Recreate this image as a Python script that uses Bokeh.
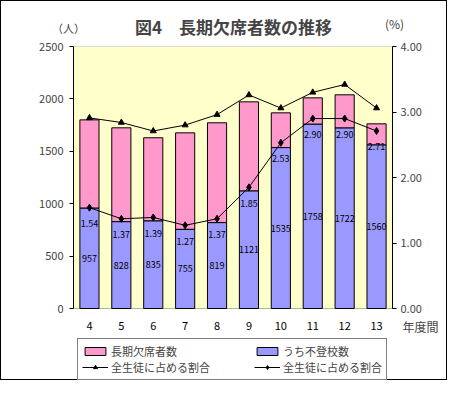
from bokeh.plotting import figure
from bokeh.models import (Range1d, LinearAxis, FactorRange, Label, Legend, LegendItem,
                          BoxAnnotation, ColumnDataSource, FixedTicker, NumeralTickFormatter)
from bokeh.core.properties import value
from bokeh.embed import file_html
from bokeh.resources import INLINE

years = ["4", "5", "6", "7", "8", "9", "10", "11", "12", "13"]
long_absence = [1800, 1724, 1629, 1676, 1772, 1972, 1867, 2010, 2039, 1762]
non_attend = [957, 828, 835, 755, 819, 1121, 1535, 1758, 1722, 1560]
long_pct = [2.91, 2.84, 2.71, 2.80, 2.96, 3.26, 3.06, 3.30, 3.42, 3.06]
non_pct = [1.54, 1.37, 1.39, 1.27, 1.37, 1.85, 2.53, 2.90, 2.90, 2.71]
left_ticks = [0, 500, 1000, 1500, 2000, 2500]
right_ticks = [0, 1, 2, 3, 4]
LMAX, RMAX = 2500, 4

FONT = "Noto Sans CJK JP"
PINK = "#FF99CC"
BLUE = "#9999FF"
W, H = 447, 380
FL, FT = 72, 45          # frame left / top on the canvas
FR = 391                 # frame right on the canvas
ZB = 307                 # canvas y of the value 0 (bottom of the plot area)
SP = "\u3000"

# the frame runs down to the canvas bottom so the legend can sit inside it
k = (H - ZB) / (ZB - FT)

src = ColumnDataSource(dict(
    x=years, total=long_absence, non=non_attend, lp=long_pct, np_=non_pct,
    mid=[n / 2 for n in non_attend],
    non_txt=[str(n) for n in non_attend],
    pct_txt=["%.2f" % v for v in non_pct],
))

p = figure(x_range=FactorRange(*years), y_range=Range1d(-LMAX * k, LMAX),
           width=W, height=H, output_backend="svg", toolbar_location=None,
           min_border_left=FL, min_border_right=W - FR, min_border_top=FT,
           min_border_bottom=0, styles={"border": "1px solid black"})
p.extra_y_ranges = {"pct": Range1d(-RMAX * k, RMAX)}
p.background_fill_color = "white"
p.border_fill_color = "white"
p.outline_line_color = None
p.xgrid.visible = False
p.ygrid.visible = False
p.xaxis.visible = False

# plot area (yellow, black border) between 0 and the axis maximum
p.add_layout(BoxAnnotation(bottom=0, top=LMAX, fill_color="#FFFFCC", fill_alpha=1.0,
                           line_color="black", line_width=1, level="underlay"))

p.yaxis.ticker = FixedTicker(ticks=left_ticks)
p.yaxis.bounds = (0, LMAX)
p.yaxis.major_tick_out = 4
p.yaxis.major_tick_in = 0
p.yaxis.minor_tick_line_color = None
p.yaxis.major_label_standoff = 6
p.yaxis.major_label_text_font = FONT
p.yaxis.major_label_text_font_size = "11px"
p.yaxis.axis_line_color = "black"

ra = LinearAxis(y_range_name="pct", ticker=FixedTicker(ticks=right_ticks),
                formatter=NumeralTickFormatter(format="0.00"), bounds=(0, RMAX))
ra.major_tick_out = 4
ra.major_tick_in = 0
ra.minor_tick_line_color = None
ra.major_label_standoff = 4
ra.major_label_text_font = FONT
ra.major_label_text_font_size = "11px"
p.add_layout(ra, "right")

r_pink = p.vbar(x="x", bottom="non", top="total", width=0.6, source=src,
                fill_color=PINK, line_color="black", line_width=1)
r_blue = p.vbar(x="x", top="non", width=0.6, source=src,
                fill_color=BLUE, line_color="black", line_width=1)

l1 = p.line(x="x", y="lp", source=src, y_range_name="pct", line_color="black", line_width=1)
m1 = p.scatter(x="x", y="lp", source=src, y_range_name="pct", marker="triangle",
               size=6, fill_color="black", line_color="black")
l2 = p.line(x="x", y="np_", source=src, y_range_name="pct", line_color="black", line_width=1)
m2 = p.scatter(x="x", y="np_", source=src, y_range_name="pct", marker="diamond",
               size=7, fill_color="black", line_color="black")

p.text(x="x", y="mid", text="non_txt", source=src, text_align="center",
       text_baseline="middle", text_font=value(FONT), text_font_size="9px", text_color="black")
p.text(x="x", y="np_", text="pct_txt", source=src, y_range_name="pct", y_offset=16,
       text_align="center", text_baseline="middle", text_font=value(FONT),
       text_font_size="9px", text_color="black")

# category (year) labels under the plot area
p.text(x="x", y=0, text="x", source=src, y_offset=17, text_align="center",
       text_baseline="middle", text_font=value(FONT), text_font_size="11px",
       text_color="black")


def side_label(cx, cy, text, place, size="11px", bold=False, align="center"):
    kw = dict(text=text, text_font=FONT, text_font_size=size,
              text_font_style="bold" if bold else "normal",
              text_align=align, text_baseline="middle")
    try:
        lab = Label(x=cx, y=cy, x_units="canvas", y_units="canvas", **kw)
    except Exception:
        lab = Label(x=cx - FL, y=ZB - cy, x_units="screen", y_units="screen", **kw)
    p.add_layout(lab, place)


side_label(231, 23.5, "図4　長期欠席者数の推移", "above", size="17px", bold=True)
side_label(400, 324, "年度間", "above", size="12px", align="left")
side_label(66, 25, "（人）", "left")
side_label(392, 21, "(%)", "right", size="12px")

legend = Legend(items=[LegendItem(label="長期欠席者数" + SP * 7, renderers=[r_pink]),
                       LegendItem(label="うち不登校数", renderers=[r_blue]),
                       LegendItem(label="全生徒に占める割合" + SP * 4, renderers=[l1, m1]),
                       LegendItem(label="全生徒に占める割合", renderers=[l2, m2])],
                orientation="horizontal", ncols=2, location=(4, 1),
                margin=0, padding=4, spacing=0, glyph_width=26, glyph_height=10,
                label_height=10, label_width=0, label_standoff=3,
                border_line_color="black", border_line_width=1,
                background_fill_color="white", background_fill_alpha=1.0,
                label_text_font=FONT, label_text_font_size="11px")
p.add_layout(legend)

open("out.html", "w").write(file_html(p, INLINE))
